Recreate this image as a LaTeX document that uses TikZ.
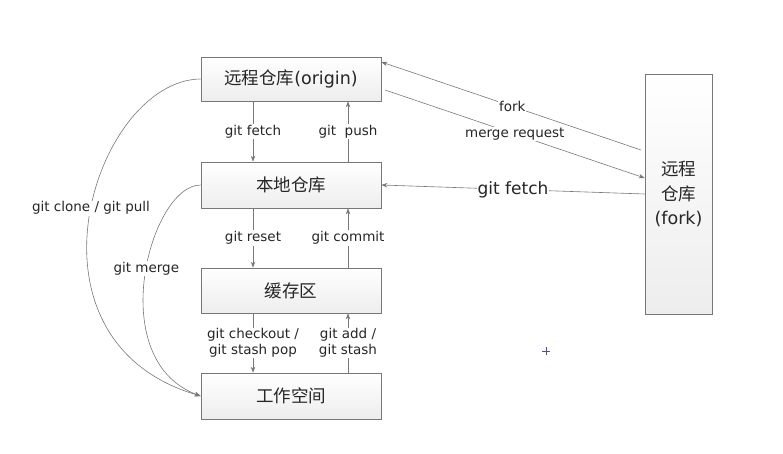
\documentclass[tikz,border=0pt]{standalone}
\usepackage{fontspec}
\setmainfont{DejaVu Sans}
\newfontfamily\cjk{Noto Sans CJK SC}
\usetikzlibrary{arrows.meta}
\definecolor{ln}{HTML}{777777}
\definecolor{tx}{HTML}{262626}
\tikzset{
  box/.style={draw=ln, line width=0.7pt, top color=white, bottom color=black!7, text=tx, inner sep=0pt,
    font=\fontsize{17.5}{20}\selectfont},
  conn/.style={draw=ln, line width=0.6pt, -{Stealth[length=6pt,width=4.5pt]}},
  lab/.style={fill=white, text=tx, inner sep=1pt, font=\fontsize{13.5}{15.5}\selectfont, align=center},
}
\begin{document}
\begin{tikzpicture}[x=1pt,y=-1pt]
\useasboundingbox (0,0) rectangle (783,454);
\node[box, minimum width=180pt, minimum height=44pt] (o) at (291,79) {{\cjk 远程仓库}(origin)};
\node[box, minimum width=180pt, minimum height=46pt] (l) at (291,185) {\cjk 本地仓库};
\node[box, minimum width=180pt, minimum height=45pt] (c) at (291,290.5) {\cjk 缓存区};
\node[box, minimum width=180pt, minimum height=46pt] (w) at (291,396) {\cjk 工作空间};
\node[box, minimum width=67pt, minimum height=240pt, align=center,
  font=\fontsize{17.5}{24.5}\selectfont] (f) at (678.5,194) {{\cjk 远程}\\{\cjk 仓库}\\(fork)};

% vertical connectors
\draw[conn] (o.south -| 253,0) -- node[lab]{git fetch} (l.north -| 253,0);
\draw[conn] (l.north -| 348,0) -- node[lab]{git\ \ push} (o.south -| 348,0);
\draw[conn] (l.south -| 253,0) -- node[lab]{git reset} (c.north -| 253,0);
\draw[conn] (c.north -| 348,0) -- node[lab]{git commit} (l.south -| 348,0);
\draw[conn] (c.south -| 253,0) -- node[lab, pos=0.5]{git checkout /\\git stash pop} (w.north -| 253,0);
\draw[conn] (w.north -| 348,0) -- node[lab, pos=0.5]{git add /\\git stash} (c.south -| 348,0);

% right side connectors
\coordinate (fkA) at (641,150);
\coordinate (orB) at (385,90);
\draw[conn] (fkA) -- node[lab, pos=0.496]{fork} (o.east |- 0,62);
\draw[conn] (orB) -- node[lab, pos=0.5]{merge request} (f.west |- 0,178);
\draw[conn] (f.west |- 0,194) -- node[lab, pos=0.5, font=\fontsize{17}{19}\selectfont]{git fetch} (l.east);

% left curves
\draw[conn] (o.west) .. controls (95,80) and (10,340) .. (w.west)
  node[lab, pos=0.48]{git clone / git pull};
\draw[conn] (l.west) .. controls (150,185) and (103,360) .. (w.west)
  node[lab, pos=0.47]{git merge};

% cursor mark
\draw[color=blue!40!gray, line width=0.6pt] (542,351) -- (550,351) (546,347) -- (546,355);
\end{tikzpicture}
\end{document}
